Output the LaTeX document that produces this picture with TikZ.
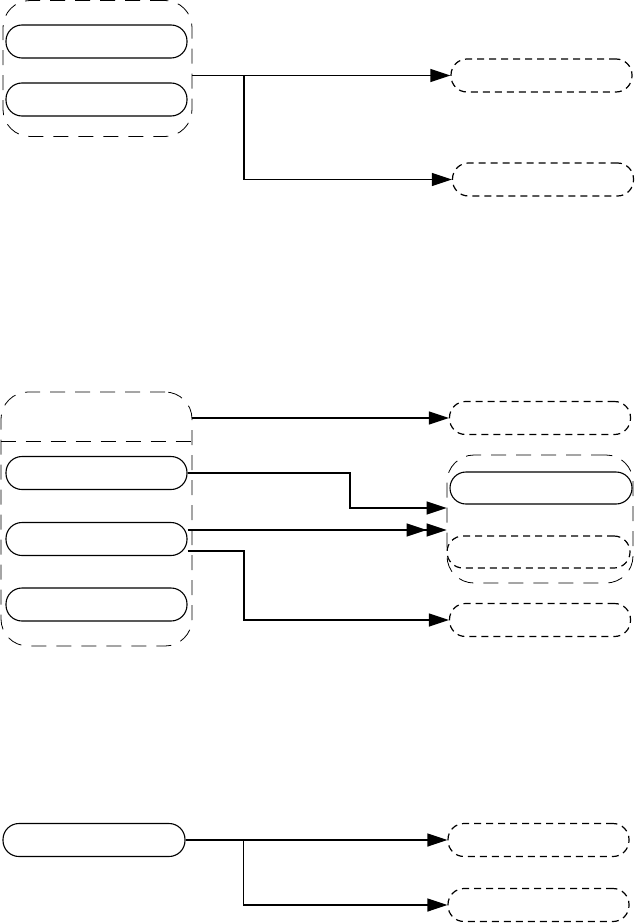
\documentclass[tikz,border=0pt]{standalone}
\usepackage{tikz}
\usetikzlibrary{arrows.meta,calc,positioning}
\tikzset{
  pill/.style={draw, line width=1.1pt, rounded corners=16pt, minimum width=181pt, minimum height=33pt, inner sep=0pt},
  hole/.style={pill, dash pattern=on 7pt off 5pt, line width=1.2pt},
  grp/.style={draw, line width=0.8pt, dash pattern=on 15pt off 10pt, rounded corners=27pt, inner sep=0pt},
  link/.style={line width=1.4pt, -{Triangle[length=20pt,width=13pt]}},
  dlink/.style={line width=1.4pt, -{Triangle[length=20pt,width=13pt,sep=0pt]Triangle[length=20pt,width=13pt]}}
}
\begin{document}
\begin{tikzpicture}[x=1pt,y=-1pt]
            \useasboundingbox (0,0) rectangle (636,923);
            % Top part
            \node[grp, minimum width=189pt, minimum height=136pt] (grp1) at (97.5,68.5) {};
            \node[pill] (t1) at (96.5,41.5) {};
            \node[pill] (t2) at (96.5,99.5) {};
            \node[hole] (tt1) at (541.5,75.5) {};
            \node[hole] (tt2) at (543,179.5) {};
            \coordinate (j1) at (244,75.5);
            \draw[link] (grp1.east |- tt1.west) -- (tt1.west);
            \draw[link] (j1) |- (tt2.west);
            % Middle part
            \node[grp, minimum width=191pt, minimum height=254pt] (mg) at (96.5,519) {};
            \draw[line width=0.8pt, dash pattern=on 15pt off 10pt] (mg.west |- 0,441) -- (mg.east |- 0,441);
            \node[pill] (pa) at (96.5,473) {};
            \node[pill] (pb) at (96.5,539) {};
            \node[pill] (pc) at (96.5,604.5) {};
            \node[hole] (m1) at (540,418) {};
            \node[grp, minimum width=186pt, minimum height=128pt] (rg) at (540,519) {};
            \node[pill, minimum width=182pt, minimum height=32pt] (rp) at (541,488) {};
            \node[hole, minimum width=183pt, minimum height=32pt] (rq) at (538.5,552) {};
            \node[hole] (m4) at (540,620) {};
            \coordinate (k1) at (350,508);
            \coordinate (k2) at (350,530);
            \draw[link] (mg.east |- m1.west) -- (m1.west);
            \draw[link] (pa.east) -| (k1) -- (k1 -| rg.west);
            \draw[dlink] ($(pb.east)+(0,-9)$) -- (k2 -| rg.west);
            \draw[link] ($(pb.east)+(0,12)$) -| ($(m4.west)+(-205,0)$) -- (m4.west);
            % Bottom part
            \node[pill, minimum width=182pt] (bp) at (94,840) {};
            \node[hole] (bt1) at (538.5,840) {};
            \node[hole] (bt2) at (538.5,905) {};
            \draw[link] (bp.east) -- (bt1.west);
            \draw[link] ($(bp.east)+(58,0)$) |- (bt2.west);
          \end{tikzpicture}
\end{document}
